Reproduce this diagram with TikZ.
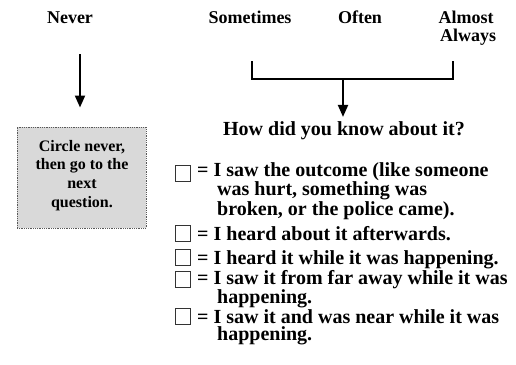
\documentclass[tikz,border=0pt]{standalone}
\usepackage{fontspec}
\setmainfont{Liberation Serif}
\usetikzlibrary{arrows.meta}
\tikzset{
  hdr/.style={font=\bfseries\fontsize{18}{18}\selectfont, inner sep=0pt, anchor=base},
  item/.style={font=\bfseries\fontsize{20}{17.6}\selectfont, inner sep=0pt, anchor=base west, align=left},
  chk/.style={draw=black!80, line width=0.9pt},
  arr/.style={line width=2pt, -{Triangle[width=10pt,length=12pt]}},
  brk/.style={line width=2.4pt},
  notebox/.style={draw=black!65, line width=1pt, dash pattern=on 1pt off 0.8pt, fill=black!15,
    minimum width=129pt, minimum height=101pt, inner sep=0pt},
  notetext/.style={font=\bfseries\fontsize{16}{18.6}\selectfont, align=center, inner sep=0pt, anchor=base}
}
\begin{document}
\begin{tikzpicture}[x=1pt,y=-1pt]
\path[use as bounding box, fill=white] (0,0) rectangle (516,364);
% headers
\node[hdr] (never) at (70,23) {Never};
\node[hdr] (some) at (250,23) {Sometimes};
\node[hdr] (often) at (360,23) {Often};
\node[hdr] (almost) at (466,23) {Almost};
\node[hdr] (always) at (468,41) {Always};
% note box
\node[notebox] (box) at (81.5,177.5) {};
\node[notetext] (boxtxt) at (82,207) {Circle never,\\then go to the\\next\\question.};
\draw[arr, shorten <=31pt, shorten >=19pt] ([xshift=10pt]never.south) -- ([xshift=-1.5pt]box.north);
% bracket
\coordinate (bl) at (252,61);
\coordinate (br) at (453,61);
\coordinate (bm) at (343,79);
\draw[brk] (bl) |- (bm) -| (br);
\node[font=\bfseries\fontsize{20}{20}\selectfont, inner sep=0pt, anchor=base] (how) at (344,135) {How did you know about it?};
\draw[arr, shorten >=4pt] (bm) -- (how.north -| bm);
% items
\foreach \b in {180,240,264,286,323}{
  \draw[chk] (175.5,\b-15) rectangle (190.5,\b+1);
}
\node[item] (i1) at (197,215.2) {= I saw the outcome (like someone\\\hspace*{20pt}was hurt, something was\\\hspace*{20pt}broken, or the police came).};
\node[item] (i2) at (197,240) {= I heard about it afterwards.};
\node[item] (i3) at (197,264) {= I heard it while it was happening.};
\node[item] (i4) at (197,303.6) {= I saw it from far away while it was\\\hspace*{20pt}happening.};
\node[item] (i5) at (197,340.6) {= I saw it and was near while it was\\\hspace*{20pt}happening.};
\end{tikzpicture}
\end{document}
